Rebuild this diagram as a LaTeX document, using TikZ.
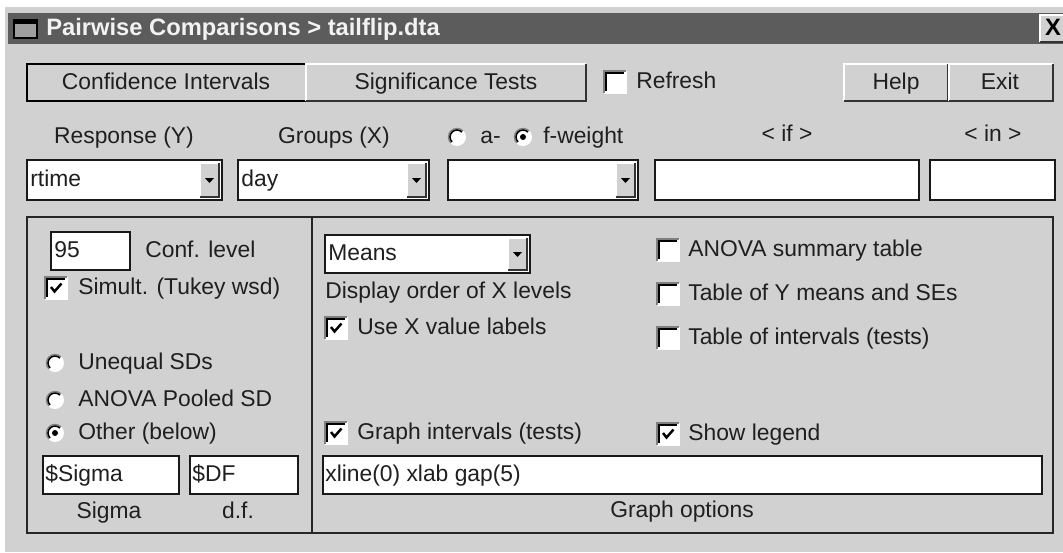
\documentclass[tikz,border=0pt]{standalone}
\usepackage{fontspec}
\setmainfont{Liberation Sans}
\usepackage{xcolor}
\usepackage{tikz}
\usetikzlibrary{positioning, calc}

\definecolor{winbg}{gray}{0.82}
\definecolor{titlebar}{gray}{0.36}
\definecolor{titletext}{gray}{0.95}
\definecolor{uitext}{gray}{0.12}
\definecolor{shade}{gray}{0.5}
\newcommand\uifont{\fontsize{13}{15}\selectfont}
\newcommand\titlefont{\fontsize{13.5}{16}\selectfont\bfseries}

\begin{document}
\begin{tikzpicture}[x=0.02cm, y=-0.02cm,
  every node/.style={inner sep=0pt, text=uitext, font=\uifont, text height=9.5pt, text depth=2.5pt},
  lbl/.style={anchor=west},
  field/.style={draw=black!90, fill=white, line width=1.1pt},
  hilite/.style={draw=white, line width=1.1pt},
  lowlite/.style={draw=black!80, line width=1.1pt},
  boxdark/.style={draw=shade, line width=0.7pt},
  boxblack/.style={draw=black, line width=0.9pt},
  boxlight/.style={draw=white, line width=0.7pt},
  tickmark/.style={draw=black, line width=1.4pt},
  arrowdown/.style={fill=black}]
\useasboundingbox (0,0) rectangle (1063,552);
\fill[white] (0,0) rectangle (1063,552);
\fill[winbg] (5,7) rectangle (1063,552);

% title bar
\fill[titlebar] (8,13) rectangle (1063,44);
\fill[gray!75] (14,20) rectangle (37,38);
\draw[black, line width=1pt] (14,20) rectangle (37,38);
\fill[black] (14,20) rectangle (37,24);
\node[lbl, text=titletext, font=\titlefont] (title) at (46,29) {Pairwise Comparisons > tailflip.dta};
\fill[winbg] (1040,15) rectangle (1063,42);
\draw[hilite] (1040,42) -- (1040,15) -- (1063,15);
\draw[lowlite] (1040,42) -- (1063,42);
\node[font=\titlefont, text=black] (closex) at (1053,29) {X};

% buttons
\draw[black, line width=1.4pt, fill=winbg] (27,64) rectangle (306,101);
\node (btnconf) at (166,83) {Confidence Intervals};
\fill[winbg] (306,64) rectangle (586,101);
\draw[hilite] (306,101) -- (306,64) -- (586,64);
\draw[lowlite] (306,101) -- (586,101) -- (586,64);
\node (btnsig) at (446,83) {Significance Tests};
\fill[winbg] (844,64) rectangle (948,101);
\draw[hilite] (844,101) -- (844,64) -- (948,64);
\draw[lowlite] (844,101) -- (948,101) -- (948,64);
\node (btnhelp) at (896,83) {Help};
\fill[winbg] (948,64) rectangle (1053,101);
\draw[hilite] (949,101) -- (949,64) -- (1053,64);
\draw[lowlite] (949,101) -- (1053,101) -- (1053,64);
\node (btnexit) at (1000,83) {Exit};

\def\bx{604}\def\by{71}
\fill[white] (\bx,\by) rectangle ++(22,22);
\draw[boxlight] (\bx,\by+22) -- (\bx+22,\by+22) -- (\bx+22,\by);
\draw[boxdark] (\bx,\by+22) -- (\bx,\by) -- (\bx+22,\by);
\draw[boxblack] (\bx+1.8,\by+20.2) -- (\bx+1.8,\by+1.8) -- (\bx+20.2,\by+1.8);
\node[lbl] (refresh) at (636,82) {Refresh};

% variables row
\node (lblresp) at (124,137) {Response (Y)};
\node (lblgroups) at (334,137) {Groups (X)};
\def\rx{457}\def\ry{137}
\fill[white] (\rx,\ry) circle (9);
\draw[boxdark] (\rx,\ry) ++(135:8.6) arc (135:315:8.6);
\draw[boxblack] (\rx,\ry) ++(135:7) arc (135:315:7);
\node[lbl] (lblaw) at (480,137) {a-};
\def\rx{523}\def\ry{137}
\fill[white] (\rx,\ry) circle (9);
\draw[boxdark] (\rx,\ry) ++(135:8.6) arc (135:315:8.6);
\draw[boxblack] (\rx,\ry) ++(135:7) arc (135:315:7);
\fill[black] (\rx,\ry) circle (3);
\node[lbl] (lblfw) at (543,137) {f-weight};
\node (lblif) at (787,135) {< if >};
\node (lblin) at (993,135) {< in >};

\def\cl{27}\def\cr{222}
\draw[field] (\cl,160) rectangle (\cr,200);
\fill[winbg] (\cr-22,163) rectangle (\cr-3,197);
\draw[hilite] (\cr-22,197) -- (\cr-22,163) -- (\cr-3,163);
\draw[lowlite] (\cr-22,197) -- (\cr-3,197) -- (\cr-3,163);
\fill[arrowdown] (\cr-17,178) -- (\cr-8,178) -- (\cr-12.5,183) -- cycle;
\node[lbl] (cmbresp) at (\cl+3,180) {rtime};
\def\cl{238}\def\cr{429}
\draw[field] (\cl,160) rectangle (\cr,200);
\fill[winbg] (\cr-22,163) rectangle (\cr-3,197);
\draw[hilite] (\cr-22,197) -- (\cr-22,163) -- (\cr-3,163);
\draw[lowlite] (\cr-22,197) -- (\cr-3,197) -- (\cr-3,163);
\fill[arrowdown] (\cr-17,178) -- (\cr-8,178) -- (\cr-12.5,183) -- cycle;
\node[lbl] (cmbgroups) at (\cl+3,180) {day};
\def\cl{448}\def\cr{638}
\draw[field] (\cl,160) rectangle (\cr,200);
\fill[winbg] (\cr-22,163) rectangle (\cr-3,197);
\draw[hilite] (\cr-22,197) -- (\cr-22,163) -- (\cr-3,163);
\draw[lowlite] (\cr-22,197) -- (\cr-3,197) -- (\cr-3,163);
\fill[arrowdown] (\cr-17,178) -- (\cr-8,178) -- (\cr-12.5,183) -- cycle;
\draw[field] (655,160) rectangle (919,200);
\draw[field] (930,160) rectangle (1055,200);

% group box
\draw[black!85, line width=1.1pt] (27,217) rectangle (1053,533);
\draw[black!85, line width=1.1pt] (312,217) -- (312,533);

% left panel
\draw[field] (51,232) rectangle (130,270);
\node[lbl] (conf) at (54,251) {95};
\node[lbl] (lblconf) at (145,251) {Conf. level};
\def\bx{45}\def\by{277}
\fill[white] (\bx,\by) rectangle ++(22,22);
\draw[boxlight] (\bx,\by+22) -- (\bx+22,\by+22) -- (\bx+22,\by);
\draw[boxdark] (\bx,\by+22) -- (\bx,\by) -- (\bx+22,\by);
\draw[boxblack] (\bx+1.8,\by+20.2) -- (\bx+1.8,\by+1.8) -- (\bx+20.2,\by+1.8);
\draw[tickmark] (\bx+6,\by+10) -- (\bx+9.5,\by+14.5) -- (\bx+16.5,\by+6.5);
\node[lbl] (simult) at (78,288) {Simult. (Tukey wsd)};
\def\rx{55}\def\ry{363}
\fill[white] (\rx,\ry) circle (9);
\draw[boxdark] (\rx,\ry) ++(135:8.6) arc (135:315:8.6);
\draw[boxblack] (\rx,\ry) ++(135:7) arc (135:315:7);
\node[lbl] (unequal) at (78,363) {Unequal SDs};
\def\ry{400}
\fill[white] (\rx,\ry) circle (9);
\draw[boxdark] (\rx,\ry) ++(135:8.6) arc (135:315:8.6);
\draw[boxblack] (\rx,\ry) ++(135:7) arc (135:315:7);
\node[lbl] (pooled) at (78,400) {ANOVA Pooled SD};
\def\ry{433}
\fill[white] (\rx,\ry) circle (9);
\draw[boxdark] (\rx,\ry) ++(135:8.6) arc (135:315:8.6);
\draw[boxblack] (\rx,\ry) ++(135:7) arc (135:315:7);
\fill[black] (\rx,\ry) circle (3);
\node[lbl] (other) at (78,433) {Other (below)};
\draw[field] (43,456) rectangle (179,494);
\node[lbl] (sigma) at (45,475) {\$Sigma};
\draw[field] (190,456) rectangle (298,494);
\node[lbl] (df) at (192,475) {\$DF};
\node (lblsigma) at (109,512) {Sigma};
\node (lbldf) at (238,512) {d.f.};

% right panel
\def\cl{325}\def\cr{530}
\draw[field] (\cl,235) rectangle (\cr,273);
\fill[winbg] (\cr-22,238) rectangle (\cr-3,270);
\draw[hilite] (\cr-22,270) -- (\cr-22,238) -- (\cr-3,238);
\draw[lowlite] (\cr-22,270) -- (\cr-3,270) -- (\cr-3,238);
\fill[arrowdown] (\cr-17,252) -- (\cr-8,252) -- (\cr-12.5,257) -- cycle;
\node[lbl] (order) at (\cl+3,254) {Means};
\node[lbl] (lblorder) at (325,292) {Display order of X levels};
\def\bx{325}\def\by{317}
\fill[white] (\bx,\by) rectangle ++(22,22);
\draw[boxlight] (\bx,\by+22) -- (\bx+22,\by+22) -- (\bx+22,\by);
\draw[boxdark] (\bx,\by+22) -- (\bx,\by) -- (\bx+22,\by);
\draw[boxblack] (\bx+1.8,\by+20.2) -- (\bx+1.8,\by+1.8) -- (\bx+20.2,\by+1.8);
\draw[tickmark] (\bx+6,\by+10) -- (\bx+9.5,\by+14.5) -- (\bx+16.5,\by+6.5);
\node[lbl] (uselabels) at (357,328) {Use X value labels};
\def\by{422}
\fill[white] (\bx,\by) rectangle ++(22,22);
\draw[boxlight] (\bx,\by+22) -- (\bx+22,\by+22) -- (\bx+22,\by);
\draw[boxdark] (\bx,\by+22) -- (\bx,\by) -- (\bx+22,\by);
\draw[boxblack] (\bx+1.8,\by+20.2) -- (\bx+1.8,\by+1.8) -- (\bx+20.2,\by+1.8);
\draw[tickmark] (\bx+6,\by+10) -- (\bx+9.5,\by+14.5) -- (\bx+16.5,\by+6.5);
\node[lbl] (graphint) at (357,433) {Graph intervals (tests)};

\def\bx{657}\def\by{239}
\fill[white] (\bx,\by) rectangle ++(22,22);
\draw[boxlight] (\bx,\by+22) -- (\bx+22,\by+22) -- (\bx+22,\by);
\draw[boxdark] (\bx,\by+22) -- (\bx,\by) -- (\bx+22,\by);
\draw[boxblack] (\bx+1.8,\by+20.2) -- (\bx+1.8,\by+1.8) -- (\bx+20.2,\by+1.8);
\node[lbl] (anova) at (688,250) {ANOVA summary table};
\def\by{283}
\fill[white] (\bx,\by) rectangle ++(22,22);
\draw[boxlight] (\bx,\by+22) -- (\bx+22,\by+22) -- (\bx+22,\by);
\draw[boxdark] (\bx,\by+22) -- (\bx,\by) -- (\bx+22,\by);
\draw[boxblack] (\bx+1.8,\by+20.2) -- (\bx+1.8,\by+1.8) -- (\bx+20.2,\by+1.8);
\node[lbl] (ymeans) at (688,294) {Table of Y means and SEs};
\def\by{327}
\fill[white] (\bx,\by) rectangle ++(22,22);
\draw[boxlight] (\bx,\by+22) -- (\bx+22,\by+22) -- (\bx+22,\by);
\draw[boxdark] (\bx,\by+22) -- (\bx,\by) -- (\bx+22,\by);
\draw[boxblack] (\bx+1.8,\by+20.2) -- (\bx+1.8,\by+1.8) -- (\bx+20.2,\by+1.8);
\node[lbl] (tabint) at (688,338) {Table of intervals (tests)};
\def\by{423}
\fill[white] (\bx,\by) rectangle ++(22,22);
\draw[boxlight] (\bx,\by+22) -- (\bx+22,\by+22) -- (\bx+22,\by);
\draw[boxdark] (\bx,\by+22) -- (\bx,\by) -- (\bx+22,\by);
\draw[boxblack] (\bx+1.8,\by+20.2) -- (\bx+1.8,\by+1.8) -- (\bx+20.2,\by+1.8);
\draw[tickmark] (\bx+6,\by+10) -- (\bx+9.5,\by+14.5) -- (\bx+16.5,\by+6.5);
\node[lbl] (legend) at (688,434) {Show legend};

\draw[field] (323,456) rectangle (1042,494);
\node[lbl] (gopts) at (325,475) {xline(0) xlab gap(5)};
\node (lblgopts) at (682,511) {Graph options};
\end{tikzpicture}
\end{document}
